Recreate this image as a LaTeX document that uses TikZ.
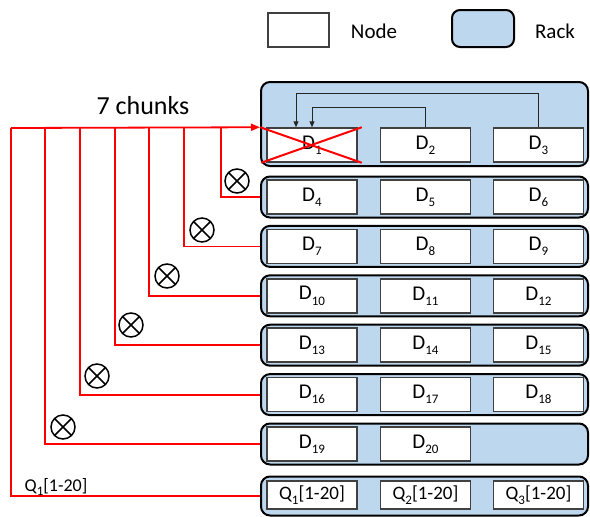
\documentclass[tikz,border=0pt]{standalone}
\usepackage{fontspec}
\setmainfont{Carlito}
\usetikzlibrary{arrows.meta}
\newcommand{\lbl}[2]{#1\raisebox{-0.5ex}{\fontsize{13}{13}\selectfont #2}}
\definecolor{rackblue}{RGB}{189,215,238}
\definecolor{nodegray}{RGB}{64,64,64}
\tikzset{
 rackbox/.style={draw=black, line width=2pt, fill=rackblue, rounded corners=9pt, minimum width=327pt, inner sep=0pt},
 nodebox/.style={draw=nodegray, line width=1.5pt, fill=white, minimum width=90pt, minimum height=34pt, inner sep=0pt, font=\fontsize{21}{24}\selectfont},
 qbox/.style={nodebox, minimum height=28pt, font=\fontsize{19}{22}\selectfont},
 redline/.style={draw=red, line width=1.8pt},
 otimes/.style={circle, draw=black, line width=1.5pt, minimum size=24pt, inner sep=0pt,
   path picture={\draw[line width=1.5pt] (path picture bounding box.north west)--(path picture bounding box.south east) (path picture bounding box.north east)--(path picture bounding box.south west);}},
 darrow/.style={draw=black!85, line width=1pt, -{Triangle[length=6pt,width=5pt]}},
 txt/.style={inner sep=0pt}
}
\begin{document}
\begin{tikzpicture}[x=1pt,y=-1pt]
\useasboundingbox (0,0) rectangle (590,517);
% legend
\node[draw=nodegray, line width=1.5pt, fill=white, minimum width=61pt, minimum height=34pt, inner sep=0pt] (legnode) at (298.5,30) {};
\node[txt, font=\fontsize{21}{24}\selectfont] (legnodet) at (374,31) {Node};
\node[draw=black, line width=2pt, fill=rackblue, rounded corners=8pt, minimum width=62pt, minimum height=37pt, inner sep=0pt] (legrack) at (483,28.5) {};
\node[txt, font=\fontsize{21}{24}\selectfont] (legrackt) at (555,31) {Rack};
% racks
\node[rackbox, minimum height=84pt] (r1) at (424.5,124) {};
\node[rackbox, minimum height=41pt] (r2) at (424.5,197) {};
\node[rackbox, minimum height=41pt] (r3) at (424.5,246.4) {};
\node[rackbox, minimum height=41pt] (r4) at (424.5,295.8) {};
\node[rackbox, minimum height=41pt] (r5) at (424.5,345.2) {};
\node[rackbox, minimum height=41pt] (r6) at (424.5,394.6) {};
\node[rackbox, minimum height=41pt] (r7) at (424.5,444) {};
\node[rackbox, minimum height=39pt] (r8) at (424.5,496) {};
% nodes
\node[nodebox] (D1) at (312,145) {\lbl{D}{1}};
\node[nodebox] (D2) at (425.5,145) {\lbl{D}{2}};
\node[nodebox] (D3) at (538.5,145) {\lbl{D}{3}};
\node[nodebox] (D4) at (312,197) {\lbl{D}{4}};
\node[nodebox] (D5) at (425.5,197) {\lbl{D}{5}};
\node[nodebox] (D6) at (538.5,197) {\lbl{D}{6}};
\node[nodebox] (D7) at (312,246.4) {\lbl{D}{7}};
\node[nodebox] (D8) at (425.5,246.4) {\lbl{D}{8}};
\node[nodebox] (D9) at (538.5,246.4) {\lbl{D}{9}};
\node[nodebox] (D10) at (312,295.8) {\lbl{D}{10}};
\node[nodebox] (D11) at (425.5,295.8) {\lbl{D}{11}};
\node[nodebox] (D12) at (538.5,295.8) {\lbl{D}{12}};
\node[nodebox] (D13) at (312,345.2) {\lbl{D}{13}};
\node[nodebox] (D14) at (425.5,345.2) {\lbl{D}{14}};
\node[nodebox] (D15) at (538.5,345.2) {\lbl{D}{15}};
\node[nodebox] (D16) at (312,394.6) {\lbl{D}{16}};
\node[nodebox] (D17) at (425.5,394.6) {\lbl{D}{17}};
\node[nodebox] (D18) at (538.5,394.6) {\lbl{D}{18}};
\node[nodebox] (D19) at (312,444) {\lbl{D}{19}};
\node[nodebox] (D20) at (425.5,444) {\lbl{D}{20}};
\node[qbox] (Q1) at (312,495) {\lbl{Q}{1}[1-20]};
\node[qbox] (Q2) at (425.5,495) {\lbl{Q}{2}[1-20]};
\node[qbox] (Q3) at (538.5,495) {\lbl{Q}{3}[1-20]};
% internal arrows
\draw[darrow] (D3.north) -- ++(0,-34) -| ([xshift=-16pt]D1.north);
\draw[darrow] (D2.north) -- ++(0,-20) -| (D1.north);
% red X over D1
\draw[red, line width=2pt] ([xshift=-6pt]D1.north west) -- ([xshift=4pt]D1.south east);
\draw[red, line width=2pt] ([xshift=-5pt]D1.south west) -- ([xshift=4pt]D1.north east);
% red lines
\coordinate (t0) at (11,128);
\coordinate (t1) at (45,128);
\coordinate (t2) at (80,128);
\coordinate (t3) at (115,128);
\coordinate (t4) at (149,128);
\coordinate (t5) at (184,128);
\coordinate (t6) at (221,128);
\draw[redline, -{Triangle[length=9pt,width=7pt]}] (t0) -- (r1.west |- D1.north);
\draw[redline] (t6) |- (r2.west);
\draw[redline] (t5) |- (r3.west);
\draw[redline] (t4) |- (r4.west);
\draw[redline] (t3) |- (r5.west);
\draw[redline] (t2) |- (r6.west);
\draw[redline] (t1) |- (r7.west);
\draw[redline] (t0) |- (r8.west);
% otimes
\node[otimes] (o1) at (237,181) {};
\node[otimes] (o2) at (202,230) {};
\node[otimes] (o3) at (167,276) {};
\node[otimes] (o4) at (131,325) {};
\node[otimes] (o5) at (97,376) {};
\node[otimes] (o6) at (63,427) {};
% texts
\node[txt, font=\fontsize{26}{30}\selectfont] (chunks) at (143,106) {7 chunks};
\node[txt, font=\fontsize{18}{22}\selectfont] (qlab) at (56,487) {\lbl{Q}{1}[1-20]};
\end{tikzpicture}
\end{document}
